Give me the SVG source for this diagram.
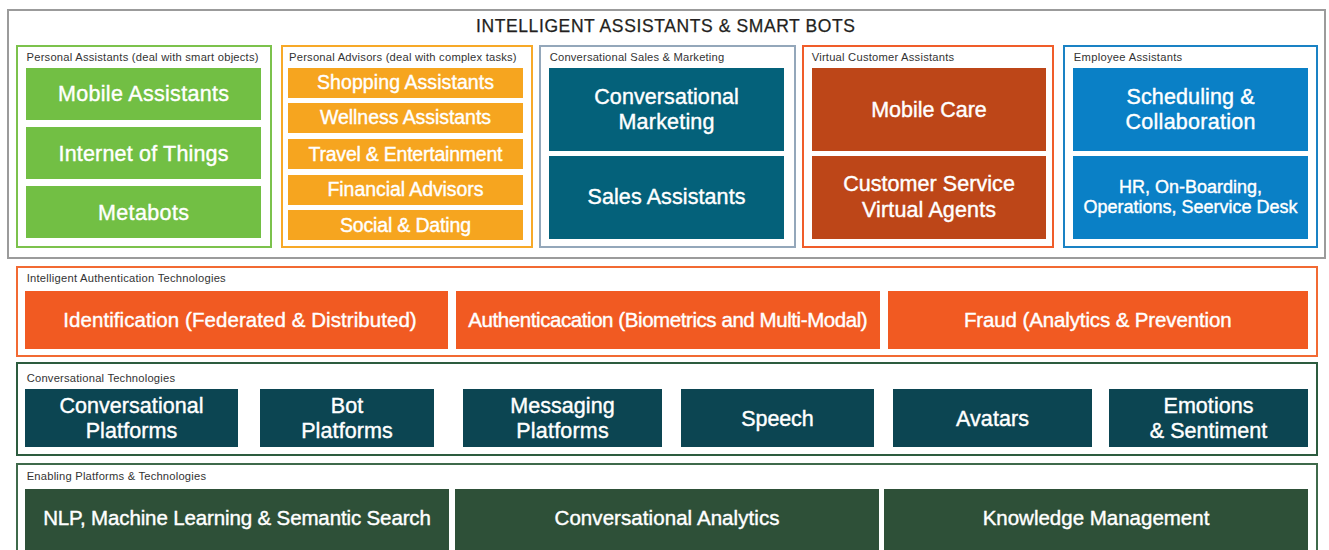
<svg xmlns="http://www.w3.org/2000/svg" width="1329" height="550" viewBox="0 0 1329 550">
  <style>
    text { font-family: "Liberation Sans", Arial, Helvetica, sans-serif; }
    .frame { fill: #ffffff; stroke: #9b9b9b; stroke-width: 2; }
    .panel { fill: #ffffff; stroke-width: 2; }
    .title { font-size: 17.5px; fill: #231f20; text-anchor: middle; stroke: #231f20; stroke-width: 0.25; }
    .label { font-size: 11.2px; fill: #333333; }
    .t { fill: #ffffff; text-anchor: middle; font-size: 21.5px; stroke: #ffffff; stroke-width: 0.4; }
    .t20 { font-size: 20.5px; }
    .t19 { font-size: 19.5px; }
    .t18 { font-size: 18px; }
    .green { fill: #72bf44; }
    .amber { fill: #f6a51f; }
    .teal { fill: #04617a; }
    .rust { fill: #bd4618; }
    .blue { fill: #0a80c6; }
    .orange { fill: #f15a22; }
    .navy { fill: #0c4552; }
    .forest { fill: #2e5038; }
  </style>

  <!-- Top tier: assistants and bots -->
  <g id="assistants-tier">
    <rect class="frame" x="8" y="10" width="1317" height="248"/>
    <text class="title" x="665.5" y="32.3" textLength="379">INTELLIGENT ASSISTANTS &amp; SMART BOTS</text>
  </g>

  <g id="personal-assistants">
    <rect class="panel" x="17" y="46" width="254" height="201" stroke="#7cc24c"/>
    <text class="label" x="26.5" y="61" textLength="232">Personal Assistants (deal with smart objects)</text>
  </g>
  <g id="mobile-assistants">
    <rect class="green" x="26" y="68" width="235" height="52"/>
    <text class="t" x="143.5" y="100.7" textLength="171">Mobile Assistants</text>
  </g>
  <g id="internet-of-things">
    <rect class="green" x="26" y="127" width="235" height="52"/>
    <text class="t" x="143.5" y="161" textLength="170">Internet of Things</text>
  </g>
  <g id="metabots">
    <rect class="green" x="26" y="186" width="235" height="52"/>
    <text class="t" x="143.5" y="220" textLength="91">Metabots</text>
  </g>

  <g id="personal-advisors">
    <rect class="panel" x="282" y="46" width="250" height="201" stroke="#f7a928"/>
    <text class="label" x="289" y="61" textLength="227.6">Personal Advisors (deal with complex tasks)</text>
  </g>
  <g id="shopping-assistants">
    <rect class="amber" x="288" y="68" width="235" height="30"/>
    <text class="t t19" x="405.5" y="89.3" textLength="177">Shopping Assistants</text>
  </g>
  <g id="wellness-assistants">
    <rect class="amber" x="288" y="103" width="235" height="30"/>
    <text class="t t19" x="405.5" y="124.3" textLength="171">Wellness Assistants</text>
  </g>
  <g id="travel-entertainment">
    <rect class="amber" x="288" y="139" width="235" height="30"/>
    <text class="t t19" x="405.5" y="161" textLength="194">Travel &amp; Entertainment</text>
  </g>
  <g id="financial-advisors">
    <rect class="amber" x="288" y="175" width="235" height="30"/>
    <text class="t t19" x="405.5" y="196" textLength="156">Financial Advisors</text>
  </g>
  <g id="social-dating">
    <rect class="amber" x="288" y="210" width="235" height="30"/>
    <text class="t t19" x="405.5" y="232.3" textLength="131">Social &amp; Dating</text>
  </g>

  <g id="sales-marketing">
    <rect class="panel" x="540" y="46" width="255" height="201" stroke="#94a7ba"/>
    <text class="label" x="549.7" y="61" textLength="174.5">Conversational Sales &amp; Marketing</text>
  </g>
  <g id="conversational-marketing">
    <rect class="teal" x="549" y="68" width="235" height="83"/>
    <text class="t" x="666.5" y="104" textLength="144.5">Conversational</text>
    <text class="t" x="666.5" y="129" textLength="96">Marketing</text>
  </g>
  <g id="sales-assistants">
    <rect class="teal" x="549" y="156" width="235" height="83"/>
    <text class="t" x="666.5" y="204.3" textLength="158">Sales Assistants</text>
  </g>

  <g id="virtual-customer-assistants">
    <rect class="panel" x="803" y="46" width="250" height="201" stroke="#f05d2a"/>
    <text class="label" x="811.7" y="61" textLength="142.4">Virtual Customer Assistants</text>
  </g>
  <g id="mobile-care">
    <rect class="rust" x="812" y="68" width="234" height="83"/>
    <text class="t" x="929" y="117.3" textLength="115.5">Mobile Care</text>
  </g>
  <g id="customer-service">
    <rect class="rust" x="812" y="156" width="234" height="83"/>
    <text class="t" x="929" y="191" textLength="171.7">Customer Service</text>
    <text class="t" x="929" y="216.7" textLength="134">Virtual Agents</text>
  </g>

  <g id="employee-assistants">
    <rect class="panel" x="1064" y="46" width="253" height="201" stroke="#1a82c4"/>
    <text class="label" x="1073.8" y="61" textLength="108.4">Employee Assistants</text>
  </g>
  <g id="scheduling-collaboration">
    <rect class="blue" x="1073" y="68" width="235" height="83"/>
    <text class="t" x="1190.5" y="104" textLength="128">Scheduling &amp;</text>
    <text class="t" x="1190.5" y="129" textLength="130">Collaboration</text>
  </g>
  <g id="hr-operations">
    <rect class="blue" x="1073" y="156" width="235" height="83"/>
    <text class="t t18" x="1190.5" y="192.7" textLength="143">HR, On-Boarding,</text>
    <text class="t t18" x="1190.5" y="213.3" textLength="214">Operations, Seervice Desk</text>
  </g>

  <!-- Authentication tier -->
  <g id="authentication-tier">
    <rect class="panel" x="17" y="267" width="1300" height="89" stroke="#f26a33"/>
    <text class="label" x="26.7" y="281.7" textLength="199">Intelligent Authentication Technologies</text>
  </g>
  <g id="identification">
    <rect class="orange" x="25" y="291" width="423" height="58"/>
    <text class="t t20" x="240" y="327.3" textLength="353.4">Identification (Federated &amp; Distributed)</text>
  </g>
  <g id="authentication">
    <rect class="orange" x="456" y="291" width="424" height="58"/>
    <text class="t t20" x="668" y="327.3" textLength="399.3">Authenticacation (Biometrics and Multi-Modal)</text>
  </g>
  <g id="fraud">
    <rect class="orange" x="888" y="291" width="420" height="58"/>
    <text class="t t20" x="1097.8" y="327.3" textLength="267.7">Fraud (Analytics &amp; Prevention</text>
  </g>

  <!-- Conversational technologies tier -->
  <g id="conversational-tier">
    <rect class="panel" x="17" y="363" width="1300" height="92" stroke="#2d5c3f"/>
    <text class="label" x="26.7" y="382.3" textLength="148.3">Conversational Technologies</text>
  </g>
  <g id="conversational-platforms">
    <rect class="navy" x="25" y="389" width="213" height="58"/>
    <text class="t" x="131.5" y="413.3" textLength="144">Conversational</text>
    <text class="t" x="131.5" y="438.3" textLength="91.7">Platforms</text>
  </g>
  <g id="bot-platforms">
    <rect class="navy" x="260" y="389" width="174" height="58"/>
    <text class="t" x="347" y="413.3" textLength="32.7">Bot</text>
    <text class="t" x="347" y="438.3" textLength="91.7">Platforms</text>
  </g>
  <g id="messaging-platforms">
    <rect class="navy" x="463" y="389" width="199" height="58"/>
    <text class="t" x="562.5" y="413.3" textLength="104.3">Messaging</text>
    <text class="t" x="562.5" y="438.3" textLength="92.3">Platforms</text>
  </g>
  <g id="speech">
    <rect class="navy" x="681" y="389" width="193" height="58"/>
    <text class="t" x="777.5" y="425.7" textLength="72.3">Speech</text>
  </g>
  <g id="avatars">
    <rect class="navy" x="893" y="389" width="199" height="58"/>
    <text class="t" x="992.5" y="425.7" textLength="73">Avatars</text>
  </g>
  <g id="emotions-sentiment">
    <rect class="navy" x="1109" y="389" width="199" height="58"/>
    <text class="t" x="1208.5" y="413.3" textLength="90">Emotions</text>
    <text class="t" x="1208.5" y="438.3" textLength="117.3">&amp; Sentiment</text>
  </g>

  <!-- Enabling platforms tier -->
  <g id="enabling-tier">
    <rect class="panel" x="17" y="464" width="1300" height="100" stroke="#3f6a4b"/>
    <text class="label" x="26.7" y="480.3" textLength="179.3">Enabling Platforms &amp; Technologies</text>
  </g>
  <g id="nlp-ml-search">
    <rect class="forest" x="25" y="489" width="424" height="61"/>
    <text class="t t20" x="237" y="525" textLength="387.7">NLP, Machine Learning &amp; Semantic Search</text>
  </g>
  <g id="conversational-analytics">
    <rect class="forest" x="455" y="489" width="424" height="61"/>
    <text class="t t20" x="667" y="525" textLength="225">Conversational Analytics</text>
  </g>
  <g id="knowledge-management">
    <rect class="forest" x="884" y="489" width="424" height="61"/>
    <text class="t t20" x="1096" y="525" textLength="226.7">Knowledge Management</text>
  </g>
</svg>
